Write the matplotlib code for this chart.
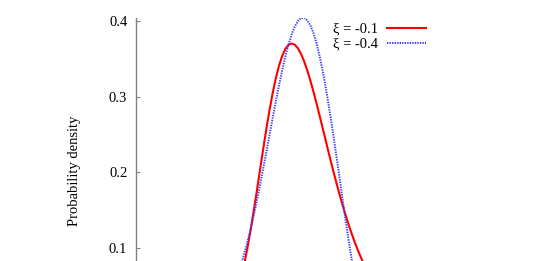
import matplotlib
matplotlib.use('Agg')
import matplotlib.pyplot as plt

# densities (x steps of 0.1)
x_red = [-1.6, -1.5, -1.4, -1.3, -1.2, -1.1, -1.0, -0.9, -0.8, -0.7, -0.6, -0.5,
         -0.4, -0.3, -0.2, -0.1, 0.0, 0.1, 0.2, 0.3, 0.4, 0.5, 0.6, 0.7, 0.8, 0.9,
         1.0, 1.1, 1.2, 1.3, 1.4, 1.5, 1.6, 1.7, 1.8, 1.9, 2.0, 2.1, 2.2, 2.3, 2.4, 2.5]
y_red = [0.0462, 0.0616, 0.0798, 0.1008, 0.1242, 0.1496, 0.1762, 0.2036, 0.2308,
         0.2571, 0.2818, 0.3043, 0.3239, 0.3403, 0.3532, 0.3624, 0.3679, 0.3698,
         0.3683, 0.3637, 0.3562, 0.3463, 0.3344, 0.3207, 0.3058, 0.2899, 0.2734,
         0.2565, 0.2395, 0.2227, 0.2062, 0.1902, 0.1748, 0.1601, 0.1461, 0.1329,
         0.1206, 0.1090, 0.0983, 0.0884, 0.0793, 0.0710]

x_blue = [-1.6, -1.5, -1.4, -1.3, -1.2, -1.1, -1.0, -0.9, -0.8, -0.7, -0.6, -0.5,
          -0.4, -0.3, -0.2, -0.1, 0.0, 0.1, 0.2, 0.3, 0.4, 0.5, 0.6, 0.7, 0.8, 0.9,
          1.0, 1.1, 1.2, 1.3, 1.4, 1.5, 1.6, 1.7, 1.8, 1.9, 2.0, 2.1, 2.2]
y_blue = [0.0671, 0.0794, 0.0932, 0.1086, 0.1254, 0.1435, 0.1629, 0.1835, 0.2049,
          0.2269, 0.2492, 0.2715, 0.2933, 0.3143, 0.3340, 0.3520, 0.3679, 0.3813,
          0.3918, 0.3992, 0.4032, 0.4037, 0.4004, 0.3935, 0.3830, 0.3689, 0.3517,
          0.3314, 0.3085, 0.2835, 0.2567, 0.2286, 0.1998, 0.1708, 0.1421, 0.1143,
          0.0879, 0.0634, 0.0414]

labels = ['\u03be = -0.1', '\u03be = -0.4']
yticks = [0.1, 0.2, 0.3, 0.4]

plt.rcParams['font.family'] = ['Liberation Serif', 'DejaVu Serif']

fig = plt.figure(figsize=(5.33, 2.61), dpi=100)
ax = fig.add_axes([135.7 / 533, -0.2425, (445.8 - 135.7) / 533, 1.1724])

ax.plot(x_red, y_red, color='#ff0000', linewidth=1.5, label=labels[0])
ax.plot(x_blue, y_blue, color='#3a3aff', linewidth=1.4,
        linestyle=(0, (0.7, 0.6)), label=labels[1])

ax.set_xlim(-4.85, 5.0)
ax.set_ylim(0, 0.403)

for side in ['top', 'right', 'bottom']:
    ax.spines[side].set_visible(False)
ax.spines['left'].set_color('#808080')
ax.spines['left'].set_linewidth(1.0)
ax.set_xticks([])
ax.set_yticks(yticks)
ax.set_yticklabels(['%.1f' % v for v in yticks])
ax.tick_params(axis='y', direction='in', length=3, color='#808080',
               labelsize=10.5, pad=6)

ax.set_ylabel('Probability density', fontsize=10.5)
ax.yaxis.set_label_coords(-0.1774, 0.5)

fig.legend(loc='upper right', bbox_to_anchor=(426 / 533, (261 - 22.5) / 261),
           frameon=False, markerfirst=False, fontsize=10.5,
           handlelength=2.7, handletextpad=0.6, labelspacing=0.12,
           borderpad=0, borderaxespad=0)

plt.savefig('out.png', dpi=100)
